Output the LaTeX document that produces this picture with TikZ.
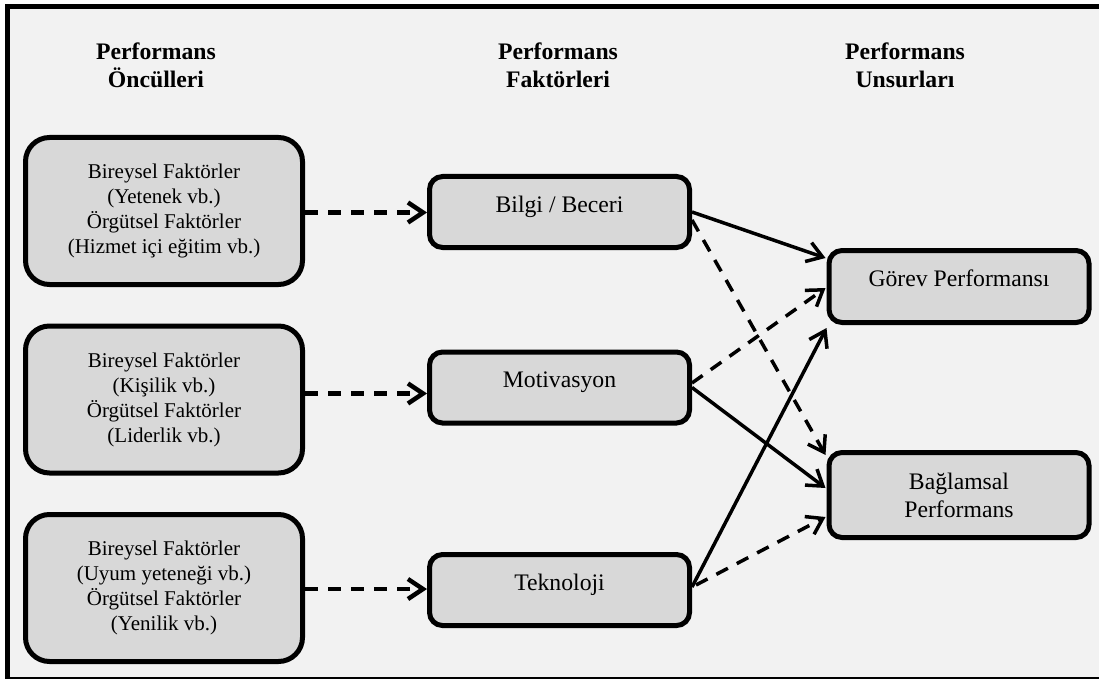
\documentclass[tikz,border=0pt]{standalone}
\usepackage{fontspec}
\setmainfont{Liberation Serif}
\usetikzlibrary{arrows.meta,calc}
\definecolor{pagebg}{HTML}{F2F2F2}
\definecolor{boxfill}{HTML}{D8D8D8}

\begin{document}
\begin{tikzpicture}[x=1pt,y=-1pt,
  frame/.style={line width=5pt, fill=pagebg},
  header/.style={font=\fontsize{23.7}{28}\selectfont\bfseries, align=center, inner sep=0pt},
  causebox/.style={draw, line width=5pt, fill=boxfill, rounded corners=24pt,
    minimum width=277pt, minimum height=147pt, align=center, inner sep=0pt,
    font=\fontsize{21}{25}\selectfont},
  factorbox/.style={draw, line width=5pt, fill=boxfill, rounded corners=13pt,
    minimum width=260pt, minimum height=71pt, align=center, inner sep=0pt,
    font=\fontsize{23.7}{28}\selectfont, text height=12pt, text depth=12pt},
  outcomebox/.style={factorbox, minimum height=72pt},
  feed/.style={line width=4.5pt, dash pattern=on 13pt off 10pt,
    -{Straight Barb[length=15pt,width=20pt]}},
  link/.style={line width=3.5pt, -{Straight Barb[length=15pt,width=20pt]}},
  dashlink/.style={link, dash pattern=on 13pt off 10pt}
]
\useasboundingbox (0,0) rectangle (1099,679);
\fill[white] (0,0) rectangle (1099,679);
\draw[frame] (7.5,6.5) rectangle (1104,679);

% column headings
\node[header] (h1) at (156,65) {Performans\\Öncülleri};
\node[header] (h2) at (558,65) {Performans\\Faktörleri};
\node[header] (h3) at (905,65) {Performans\\Unsurları};

% antecedents
\node[causebox] (b1) at (164,211)
  {Bireysel Faktörler\\(Yetenek vb.)\\Örgütsel Faktörler\\(Hizmet içi eğitim vb.)};
\node[causebox] (b2) at (164,399.5)
  {Bireysel Faktörler\\(Kişilik vb.)\\Örgütsel Faktörler\\(Liderlik vb.)};
\node[causebox] (b3) at (164,588)
  {Bireysel Faktörler\\(Uyum yeteneği vb.)\\Örgütsel Faktörler\\(Yenilik vb.)};

% factors
\node[factorbox] (m1) at (559.5,212) {Bilgi / Beceri};
\node[factorbox] (m2) at (559.5,387.5) {Motivasyon};
\node[factorbox] (m3) at (559.5,590) {Teknoloji};

% performance elements
\node[outcomebox] (g) at (959,286.5) {Görev Performansı};
\node[factorbox, minimum height=85pt, text height=, text depth=] (bg) at (959,495)
  {Bağlamsal\\Performans};

% antecedents to factors
\draw[feed] ($(b1.east)+(0,1.5)$) -- ($(m1.west)+(0,0.5)$);
\draw[feed] ($(b2.east)+(0,-6)$) -- ($(m2.west)+(0,6)$);
\draw[feed] ($(b3.east)+(0,1)$) -- ($(m3.west)+(0,-1)$);

% factors to performance elements
\draw[link] (m1.east) -- ($(g.west)+(-1,-28.5)$);
\draw[dashlink] ($(m1.east)+(0,8)$) -- ($(bg.north west)+(-1,5)$);
\draw[dashlink] ($(m2.east)+(0,-4.5)$) -- ($(g.west)+(-1,1.5)$);
\draw[link] (m2.east) -- ($(bg.west)+(-1,-7)$);
\draw[link] ($(m3.east)+(0,-3)$) -- ($(g.south west)+(0,3)$);
\draw[dashlink] ($(m3.east)+(4,-5)$) -- ($(bg.west)+(-1,22)$);
\end{tikzpicture}
\end{document}
